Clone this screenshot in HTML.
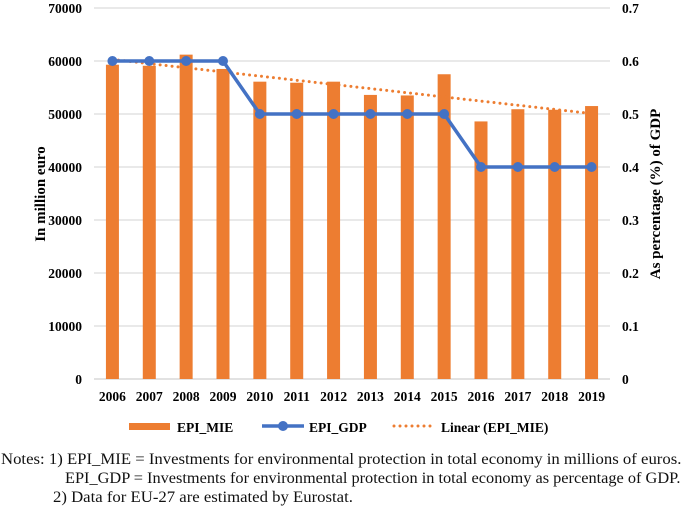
<!DOCTYPE html>
<html><head><meta charset="utf-8"><style>
body{margin:0;background:#fff;width:685px;height:507px;overflow:hidden;font-family:"Liberation Serif",serif;}
svg text{font-family:"Liberation Serif",serif;}
.note{position:absolute;font-size:16px;color:#111;white-space:nowrap;transform:scaleX(1.045);transform-origin:left top;}
</style></head><body>
<svg id="chart" width="685" height="445" style="position:absolute;left:0;top:0"></svg>
<div class="note" style="left:1px;top:451px">Notes: 1) EPI_MIE = Investments for environmental protection in total economy in millions of euros.</div>
<div class="note" style="left:65px;top:470px;transform:scaleX(1.02)">EPI_GDP = Investments for environmental protection in total economy as percentage of GDP.</div>
<div class="note" style="left:53px;top:489px">2) Data for EU-27 are estimated by Eurostat.</div>
<script>
const years=["2006","2007","2008","2009","2010","2011","2012","2013","2014","2015","2016","2017","2018","2019"];
const mie=[59300,59100,61200,58500,56100,55900,56100,53600,53500,57500,48600,50900,50800,51500];
const gdp=[0.6,0.6,0.6,0.6,0.5,0.5,0.5,0.5,0.5,0.5,0.4,0.4,0.4,0.4];
const leftTicks=[0,10000,20000,30000,40000,50000,60000,70000];
const rightTicks=["0","0.1","0.2","0.3","0.4","0.5","0.6","0.7"];
const NS="http://www.w3.org/2000/svg",svg=document.getElementById('chart');
const x0=94,x1=610,yT=8,yB=379,band=(x1-x0)/years.length;
const xc=i=>x0+band*(i+0.5), yL=v=>yB-(v/70000)*(yB-yT), yR=v=>yB-(v/0.7)*(yB-yT);
function mk(t,a,txt){const e=document.createElementNS(NS,t);for(const k in a)e.setAttribute(k,a[k]);if(txt!=null)e.textContent=txt;svg.appendChild(e);return e;}
leftTicks.forEach((v,i)=>{
 const g=mk('line',{x1:x0,x2:x1,y1:yL(v),y2:yL(v),stroke:i==0?'#d0d0d0':'#dcdcdc','stroke-width':1.2});
 
 const t=mk('text',{x:82,y:yL(v)+5,'text-anchor':'end','font-size':13.5,'font-weight':'bold'},String(v));
 
 const r=mk('text',{x:622,y:yL(v)+5,'font-size':13.5,'font-weight':'bold'},rightTicks[i]);
 
});
years.forEach((y,i)=>{
 const b=mk('rect',{x:xc(i)-6.5,y:yL(mie[i]),width:13,height:yB-yL(mie[i]),fill:'#ed7d31'});
 
 const t=mk('text',{x:xc(i),y:401,'text-anchor':'middle','font-size':13.5,'font-weight':'bold'},y);
 
});
const n=mie.length;let sx=0,sy=0,sxy=0,sxx=0;mie.forEach((v,i)=>{sx+=i;sy+=v;sxy+=i*v;sxx+=i*i;});
const sl=(n*sxy-sx*sy)/(n*sxx-sx*sx),ic=(sy-sl*sx)/n;
const tr=mk('line',{x1:xc(0),y1:yL(ic),x2:xc(n-1),y2:yL(ic+sl*(n-1)),stroke:'#ed7d31','stroke-width':3,'stroke-dasharray':'0 6','stroke-linecap':'round'});

const pl=mk('polyline',{points:gdp.map((v,i)=>xc(i)+','+yR(v)).join(' '),fill:'none',stroke:'#4472c4','stroke-width':3.5});

gdp.forEach((v,i)=>{const c=mk('circle',{cx:xc(i),cy:yR(v),r:5,fill:'#4472c4'});
 });
let a=mk('text',{x:0,y:0,transform:'translate(45,194) rotate(-90)','text-anchor':'middle','font-size':15,'font-weight':'bold'},'In million euro');

a=mk('text',{x:0,y:0,transform:'translate(660,194) rotate(-90)','text-anchor':'middle','font-size':15,'font-weight':'bold'},'As percentage (%) of GDP');

let l=mk('rect',{x:129,y:423,width:41,height:7,fill:'#ed7d31'});
l=mk('text',{x:177,y:432,'font-size':13.5,'font-weight':'bold'},'EPI_MIE');
l=mk('line',{x1:262,x2:304,y1:426,y2:426,stroke:'#4472c4','stroke-width':3.5});
l=mk('circle',{cx:283,cy:426,r:5,fill:'#4472c4'});
l=mk('text',{x:309,y:432,'font-size':13.5,'font-weight':'bold'},'EPI_GDP');
l=mk('line',{x1:394,x2:434,y1:426,y2:426,stroke:'#ed7d31','stroke-width':3,'stroke-dasharray':'0 6','stroke-linecap':'round'});
l=mk('text',{x:441,y:432,'font-size':13.5,'font-weight':'bold'},'Linear (EPI_MIE)');
</script>
</body></html>
